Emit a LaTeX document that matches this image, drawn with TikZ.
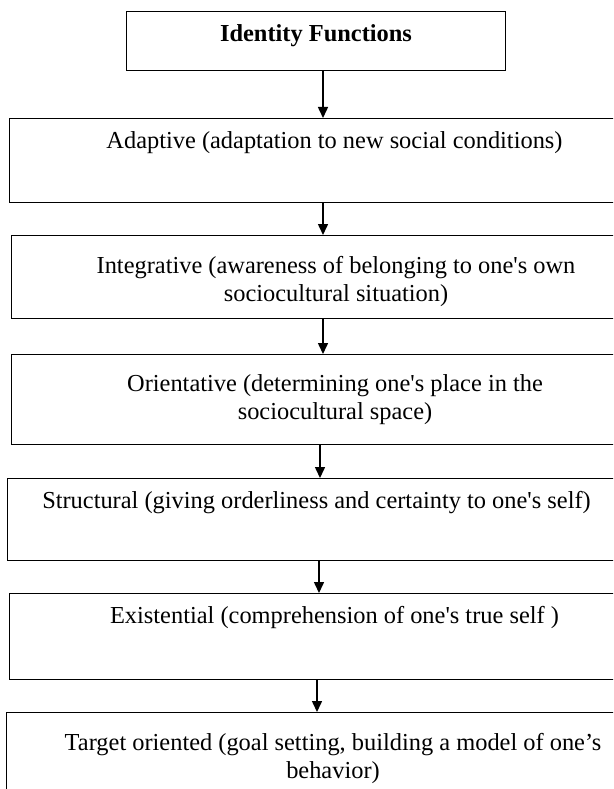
\documentclass[tikz,border=0pt]{standalone}
\usepackage{fontspec}
\setmainfont{Liberation Serif}
\usetikzlibrary{positioning}
\usetikzlibrary{arrows.meta}
\newcommand{\apos}{\textquotesingle}
\tikzset{%
  % Specifications for style of nodes:
    >={Triangle[width=10pt,length=11pt]},
    baseBox/.style = {rectangle,draw,line width=1.2pt,anchor=north west,inner sep=0},
    titleBox/.style = {baseBox,minimum width=379pt,minimum height=59pt},
    funcBox/.style = {baseBox,minimum width=620pt},
    funcText/.style = {anchor=base,align=center,inner sep=0,font=\fontsize{24.4}{27.5}\selectfont},
    flowArrow/.style = {->,line width=1.5pt},
}

\begin{document}
\begin{tikzpicture}[x=1pt,y=-1pt]
	\useasboundingbox (0,0) rectangle (613,789);
	\clip (0,0) rectangle (613,789);

	\node [titleBox] (title) at (126,11) {};
	\node [funcText, font=\bfseries\fontsize{24.4}{27.5}\selectfont] (titleLabel) at (316,42) {Identity Functions};

	\node [funcBox, minimum height=84pt] (adaptive) at (9,118) {};
	\node [funcText] (adaptiveLabel) at (334.5,148) {Adaptive (adaptation to new social conditions)};

	\node [funcBox, minimum height=83pt] (integrative) at (11,235) {};
	\node [funcText] (integrativeLabel) at (336,301) {Integrative (awareness of belonging to one\apos s own\\sociocultural situation)};

	\node [funcBox, minimum height=90pt] (orientative) at (11,354) {};
	\node [funcText] (orientativeLabel) at (335,419) {Orientative (determining one\apos s place in the\\sociocultural space)};

	\node [funcBox, minimum height=82pt] (structural) at (7,478) {};
	\node [funcText] (structuralLabel) at (316.5,508) {Structural (giving orderliness and certainty to one\apos s self)};

	\node [funcBox, minimum height=86pt] (existential) at (9,593) {};
	\node [funcText] (existentialLabel) at (334.5,623) {Existential (comprehension of one\apos s true self )};

	\node [funcBox, minimum height=100pt] (target) at (6,712) {};
	\node [funcText] (targetLabel) at (333,778) {Target oriented (goal setting, building a model of one’s\\behavior)};

	% arrows between the boxes
	\coordinate (a1) at (323,0);
	\coordinate (a4) at (320,0);
	\coordinate (a5) at (319,0);
	\coordinate (a6) at (317,0);
	\draw[flowArrow] (title.south -| a1) -- (adaptive.north -| a1);
	\draw[flowArrow] (adaptive.south -| a1) -- (integrative.north -| a1);
	\draw[flowArrow] (integrative.south -| a1) -- (orientative.north -| a1);
	\draw[flowArrow] (orientative.south -| a4) -- (structural.north -| a4);
	\draw[flowArrow] (structural.south -| a5) -- (existential.north -| a5);
	\draw[flowArrow] (existential.south -| a6) -- (target.north -| a6);

\end{tikzpicture}
\end{document}
